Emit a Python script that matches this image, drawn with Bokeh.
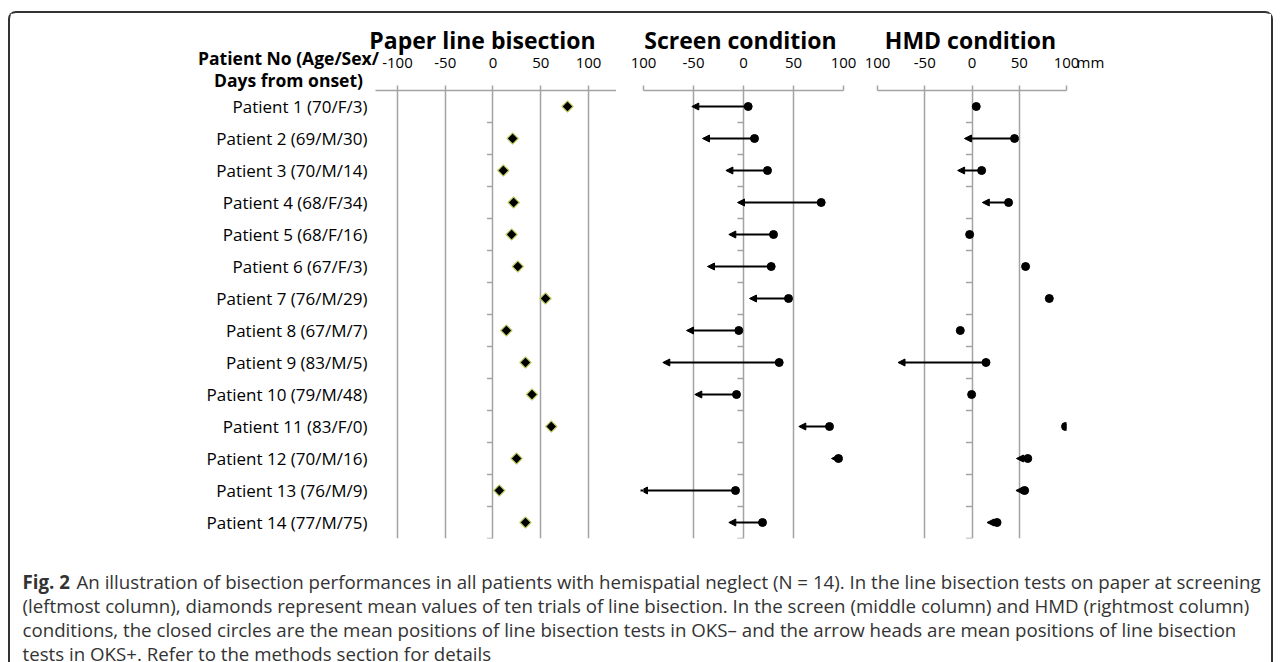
import math
from bokeh.plotting import figure
from bokeh.layouts import row
from bokeh.models import (Range1d, FixedTicker, Label, Arrow, NormalHead, ColumnDataSource,
                          GridBox)
from bokeh.embed import file_html
from bokeh.resources import INLINE

# ---------------- data ----------------
patients = ["Patient 1 (70/F/3)", "Patient 2 (69/M/30)", "Patient 3 (70/M/14)",
            "Patient 4 (68/F/34)", "Patient 5 (68/F/16)", "Patient 6 (67/F/3)",
            "Patient 7 (76/M/29)", "Patient 8 (67/M/7)", "Patient 9 (83/M/5)",
            "Patient 10 (79/M/48)", "Patient 11 (83/F/0)", "Patient 12 (70/M/16)",
            "Patient 13 (76/M/9)", "Patient 14 (77/M/75)"]
paper_mean = [78, 20.6, 10.8, 21.6, 19.5, 26, 55, 14, 34, 40.8, 61, 24.7, 6.6, 34]
screen_oks_minus = [4.7, 11, 24, 77.7, 30, 27.7, 45, -4.7, 35.7, -7, 86, 95, -8, 19]
screen_oks_plus = [-51.7, -41, -17.6, -6, -14.7, -36, 6, -57, -80.7, -48.7, 55.3, 88, -103, -14.7]
hmd_oks_minus = [4.5, 45, 10.2, 38.7, -2.5, 56.7, 81.8, -12.4, 14.8, -0.4, 99, 59, 55.7, 26.5]
hmd_oks_plus = [None, -8, -15.2, 10.9, None, None, None, None, -78.3, None, 96, 47, 46.5, 15.9]

ticks = [-100, -50, 0, 50, 100]
paper_tick_labels = ["-100", "-50", "0", "50", "100"]
cond_tick_labels = ["100", "-50", "0", "50", "100"]
unit_text = "mm"

titles = ["Paper line bisection", "Screen condition", "HMD condition"]
header_lines = ["Patient No (Age/Sex/", "Days from onset)"]
caption_first = "Fig. 2"
caption_lines = [
    "An illustration of bisection performances in all patients with hemispatial neglect (N = 14). In the line bisection tests on paper at screening",
    "(leftmost column), diamonds represent mean values of ten trials of line bisection. In the screen (middle column) and HMD (rightmost column)",
    "conditions, the closed circles are the mean positions of line bisection tests in OKS\u2013 and the arrow heads are mean positions of line bisection",
    "tests in OKS+. Refer to the methods section for details",
]

# ---------------- style ----------------
FONT = "Open Sans"
GRID = "#a3a3a3"
rows_idx = list(range(1, len(patients) + 1))
bounds = [i + 0.5 for i in rows_idx]
ROW_H = 536
TOP = 77


def make_panel(xr, width, left, right, tick_labels, show_left=False):
    p = figure(width=width, height=ROW_H, x_range=xr, y_range=Range1d(14.5, 0.5),
               x_axis_location="above", y_axis_location="left" if show_left else None,
               min_border_left=left, min_border_right=right, min_border_top=TOP,
               min_border_bottom=ROW_H - TOP - 448, toolbar_location=None,
               output_backend="svg")
    p.outline_line_color = None
    p.background_fill_color = "white"
    p.border_fill_color = "white"
    p.ygrid.grid_line_color = None
    p.xgrid.ticker = FixedTicker(ticks=ticks)
    p.xgrid.grid_line_color = GRID
    p.xgrid.grid_line_width = 1.5
    ax = p.xaxis[0]
    ax.ticker = FixedTicker(ticks=ticks)
    ax.major_label_overrides = {t: s for t, s in zip(ticks, tick_labels)}
    ax.axis_line_color = GRID
    ax.axis_line_width = 1.5
    ax.major_tick_line_color = GRID
    ax.major_tick_line_width = 1.5
    ax.major_tick_out = 5
    ax.major_tick_in = 0
    ax.minor_tick_line_color = None
    ax.major_label_standoff = 18
    ax.major_label_text_font = FONT
    ax.major_label_text_font_size = "15px"
    ax.major_label_text_color = "black"
    # small ticks at row boundaries on the zero line
    p.ray(x=[0] * len(bounds), y=bounds, length=6, length_units="screen", angle=math.pi,
          line_color=GRID, line_width=1.5)
    return p


def add_condition(p, minus, plus):
    xs, xe, ys = [], [], []
    for i, (m, q) in enumerate(zip(minus, plus)):
        if q is not None:
            xs.append(m)
            xe.append(q)
            ys.append(rows_idx[i])
    src = ColumnDataSource(dict(x_start=xs, x_end=xe, y=ys))
    p.add_layout(Arrow(source=src, x_start="x_start", y_start="y", x_end="x_end", y_end="y",
                       line_color="black", line_width=2,
                       end=NormalHead(size=7, fill_color="black", line_color="black",
                                      line_width=1)))
    p.scatter(x=minus, y=rows_idx, size=8, marker="circle", fill_color="black",
              line_color="black")


# Paper panel
f1 = make_panel(Range1d(-123.0, 129.3), 606, 365, 0, paper_tick_labels, show_left=True)
ya = f1.yaxis[0]
ya.ticker = FixedTicker(ticks=rows_idx)
ya.major_label_overrides = {i: s for i, s in zip(rows_idx, patients)}
ya.axis_line_color = None
ya.major_tick_line_color = None
ya.major_tick_out = 0
ya.major_tick_in = 0
ya.minor_tick_line_color = None
ya.major_label_standoff = 8
ya.major_label_text_font = FONT
ya.major_label_text_font_size = "17px"
ya.major_label_text_color = "black"
f1.scatter(x=paper_mean, y=rows_idx, marker="square", angle=math.pi / 4, size=8,
           fill_color="black", line_color="#c3d064", line_width=1.2)

# Screen panel
f2 = make_panel(Range1d(-100, 100), 244, 27, 17, cond_tick_labels)
add_condition(f2, screen_oks_minus, screen_oks_plus)

# HMD panel
f3 = make_panel(Range1d(-100, 100), 411, 17, 205, cond_tick_labels)
add_condition(f3, hmd_oks_minus, hmd_oks_plus)

main = row(f1, f2, f3)

# Overlay for headers and caption (pixel coordinates of the content box)
W, H = 1261, 649
ov = figure(width=W, height=H, x_range=Range1d(0, W), y_range=Range1d(H, 0),
            min_border=0, toolbar_location=None, output_backend="svg")
ov.axis.visible = False
ov.grid.visible = False
ov.outline_line_color = None
ov.background_fill_color = None
ov.border_fill_color = None

for txt, cx in zip(titles, [472, 730, 960]):
    ov.add_layout(Label(x=cx, y=26, text=txt, text_align="center", text_baseline="alphabetic",
                        text_font=FONT, text_font_size="23px", text_font_style="bold",
                        text_color="black"))
for txt, yy in zip(header_lines, [44, 66]):
    ov.add_layout(Label(x=278, y=yy, text=txt, text_align="center", text_baseline="alphabetic",
                        text_font=FONT, text_font_size="17.5px", text_font_style="bold",
                        text_color="black"))
ov.add_layout(Label(x=1066, y=48, text=unit_text, text_align="left", text_baseline="alphabetic",
                    text_font=FONT, text_font_size="15px", text_color="black"))

CAP_SIZE = "18.7px"
CAP_COLOR = "#333333"
line_y = [567.5, 592, 616, 639.5]
ov.add_layout(Label(x=12, y=line_y[0], text=caption_first, text_baseline="middle",
                    text_font=FONT, text_font_size=CAP_SIZE, text_font_style="bold",
                    text_color=CAP_COLOR))
for k, (txt, yy) in enumerate(zip(caption_lines, line_y)):
    ov.add_layout(Label(x=66 if k == 0 else 12, y=yy, text=txt, text_baseline="middle",
                        text_font=FONT, text_font_size=CAP_SIZE, text_color=CAP_COLOR))

layout = GridBox(children=[(main, 0, 0), (ov, 0, 0)], margin=(11, 0, 0, 8),
                 styles={"border-top": "2px solid #333", "border-left": "2px solid #333",
                         "border-right": "2px solid #333", "border-radius": "8px 8px 0 0"})

open("out.html", "w").write(file_html(layout, INLINE))
